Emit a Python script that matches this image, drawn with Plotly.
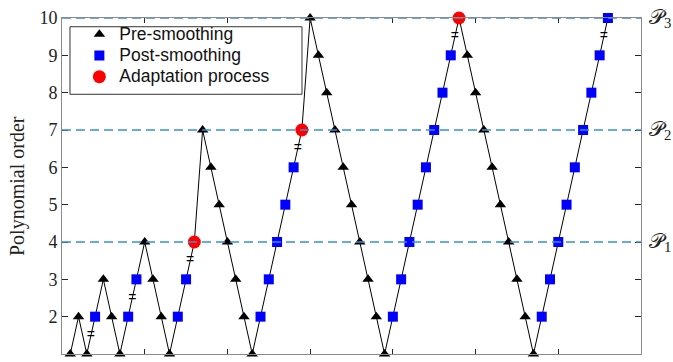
import plotly.graph_objects as go

# multigrid cycle: polynomial order at each step
step = list(range(1, 67))
order = [1, 2, 1, 2, 3, 2, 1, 2, 3, 4, 3, 2, 1, 2, 3, 4,
         7, 6, 5, 4, 3, 2, 1, 2, 3, 4, 5, 6, 7,
         10, 9, 8, 7, 6, 5, 4, 3, 2, 1, 2, 3, 4, 5, 6, 7, 8, 9, 10,
         9, 8, 7, 6, 5, 4, 3, 2, 1, 2, 3, 4, 5, 6, 7, 8, 9, 10]
# P = pre-smoothing, S = post-smoothing, A = adaptation
stage = list("PPPSPPPSSPPPPSSA" "PPPPPPPSSSSSA" "PPPPPPPPPPSSSSSSSSA" "PPPPPPPPPSSSSSSSSS")
transfer_steps = [4, 9, 16, 29, 48, 66]
levels = [4, 7, 10]
level_names = ["𝒫<sub>1</sub>", "𝒫<sub>2</sub>", "𝒫<sub>3</sub>"]

serif = "Liberation Serif, DejaVu Serif, serif"
sans = "Liberation Sans, Arial, sans-serif"

def pick(code):
    xs = [s for s, c in zip(step, stage) if c == code]
    ys = [o for o, c in zip(order, stage) if c == code]
    return xs, ys

def big(txt):
    return '<span style="font-size:17.5px">' + txt + "</span>"

fig = go.Figure()

# connecting line
fig.add_trace(go.Scatter(x=step, y=order, mode="lines",
                         line=dict(color="black", width=1),
                         showlegend=False, hoverinfo="skip"))

# transfer marks on the segments
tx = [s - 0.5 for s in transfer_steps]
ty = [(order[s - 1] + order[s - 2]) / 2 for s in transfer_steps]
fig.add_trace(go.Scatter(x=tx, y=ty, mode="text", text=["="] * len(tx),
                         textfont=dict(size=14, color="black", family=sans),
                         showlegend=False, hoverinfo="skip"))

xs, ys = pick("P")
fig.add_trace(go.Scatter(x=xs, y=ys, mode="markers", name=big("Pre-smoothing"),
                         marker=dict(symbol="triangle-up", size=10, color="black"),
                         cliponaxis=False))
xs, ys = pick("S")
fig.add_trace(go.Scatter(x=xs, y=ys, mode="markers", name=big("Post-smoothing"),
                         marker=dict(symbol="square", size=10, color="#0000ff"),
                         cliponaxis=False))
xs, ys = pick("A")
fig.add_trace(go.Scatter(x=xs, y=ys, mode="markers", name=big("Adaptation process"),
                         marker=dict(symbol="circle", size=13, color="#ff0000"),
                         cliponaxis=False))

# dashed level lines and labels
for lv, name in zip(levels, level_names):
    fig.add_shape(type="line", xref="paper", yref="y", x0=0, x1=1, y0=lv, y1=lv,
                  line=dict(color="#3492d4", width=1.5, dash="9px,5px"), layer="above")
    fig.add_annotation(xref="paper", yref="y", x=1, y=lv, text=name, showarrow=False,
                       xanchor="left", xshift=6, font=dict(family=serif, size=21, color="#222"))

# y axis title
fig.add_annotation(xref="paper", yref="paper", x=-0.0777, y=0.5, text="Polynomial order",
                   textangle=-90, showarrow=False, xanchor="center", yanchor="middle",
                   font=dict(family=serif, size=20, color="#222"))

# legend box
fig.add_shape(type="rect", xref="paper", yref="paper", x0=0.0138, x1=0.4145, y0=0.773, y1=0.974,
              line=dict(color="#333", width=1), fillcolor="white", layer="above")

fig.update_layout(
    width=673, height=362,
    margin=dict(l=62, r=32, t=10, b=8),
    plot_bgcolor="white", paper_bgcolor="white",
    showlegend=True,
    legend=dict(x=0.03, y=0.998, xanchor="left", yanchor="top",
                bgcolor="rgba(0,0,0,0)", borderwidth=0,
                font=dict(family=sans, size=14, color="#111"), tracegroupgap=0),
    xaxis=dict(range=[0, 70], dtick=10, showticklabels=False, ticks="inside", ticklen=5,
               tickcolor="#262626", showline=True, linecolor="#8a8a8a", linewidth=1,
               mirror="ticks", showgrid=False, zeroline=False),
    yaxis=dict(range=[1, 10], dtick=1, ticks="inside", ticklen=6, tickcolor="#262626",
               showline=True, linecolor="#8a8a8a", linewidth=1, mirror="ticks",
               showgrid=False, zeroline=False,
               tickfont=dict(family=serif, size=18, color="#222")),
)

fig.write_html("out.html", config={"displayModeBar": False},
               post_script="document.body.style.margin='0';document.body.style.overflow='hidden';")
